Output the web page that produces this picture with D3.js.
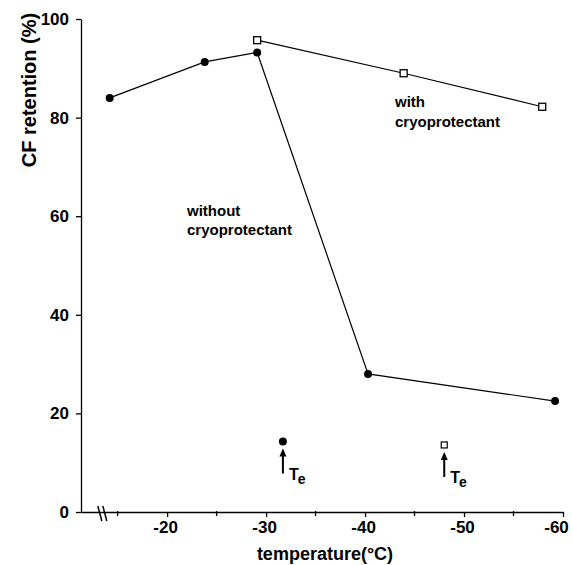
<!DOCTYPE html>
<meta charset="utf-8">
<title>CF retention vs temperature</title>
<script src="https://d3js.org/d3.v7.min.js"></script>
<style>
  body { margin: 0; background: white; }
  svg text { font-family: "Liberation Sans", Arial, Helvetica, sans-serif; font-weight: bold; fill: black; }
  .axis path, .axis line { stroke: black; stroke-width: 1.3; }
</style>
<body>
<svg class=chart></svg>
<script>

var width = 572;
var height = 565;

// without cryoprotectant (filled circles)
var without_temp = [-14.2, -23.8, -29.1, -40.3, -59.2];
var without_val = [84.0, 91.3, 93.2, 28.0, 22.5];

// with cryoprotectant (open squares)
var with_temp = [-29.1, -43.9, -57.9];
var with_val = [95.7, 89.0, 82.2];

// eutectic temperature markers
var te_temp = [-31.7, -48.0];
var te_val = [14.3, 13.6];
var te_shape = ["circle", "square"];

var y_ticks = [0, 20, 40, 60, 80, 100];
var x_ticks = [-20, -30, -40, -50, -60];
var x_minor = [-15, -25, -35, -45, -55];

var svg = d3.select(".chart")
  .attr("width", width)
  .attr("height", height);

var x = d3.scaleLinear().domain([-11.3, -60]).range([81, 563]);
var y = d3.scaleLinear().domain([0, 100]).range([512, 19]);

// y axis
svg.append("g")
  .attr("class", "axis")
  .attr("transform", "translate(" + x(-11.3) + ",0)")
  .call(d3.axisLeft(y).tickValues(y_ticks).tickSize(5).tickSizeOuter(0).tickPadding(7))
  .call(function(g) {
    g.selectAll("text").style("font-size", "17px");
  });

// x axis
svg.append("g")
  .attr("class", "axis")
  .attr("transform", "translate(0," + y(0) + ")")
  .call(d3.axisBottom(x).tickValues(x_ticks).tickSize(5).tickSizeOuter(0).tickPadding(4)
    .tickFormat(function(d) { return "-" + Math.abs(d); }))
  .call(function(g) {
    g.selectAll("text").style("font-size", "17px")
      .attr("dx", function(d) { return d == -60 ? "-7" : "-2"; });
  });

svg.append("g")
  .attr("class", "axis")
  .selectAll("line")
  .data(x_minor)
  .enter().append("line")
    .attr("x1", function(d) { return x(d); })
    .attr("x2", function(d) { return x(d); })
    .attr("y1", y(0) - 1)
    .attr("y2", y(0) + 4);

// axis break
svg.selectAll(".break")
  .data([0, 5])
  .enter().append("line")
    .attr("class", "break")
    .attr("x1", function(d) { return x(-13.0) + d; })
    .attr("x2", function(d) { return x(-13.0) + d + 4; })
    .attr("y1", y(0) - 6)
    .attr("y2", y(0) + 9)
    .attr("stroke", "black")
    .attr("stroke-width", 1.5);

// axis titles
svg.append("text")
  .attr("transform", "translate(36,90) rotate(-90)")
  .attr("text-anchor", "middle")
  .style("font-size", "20px")
  .text("CF retention (%)");

svg.append("text")
  .attr("x", 325)
  .attr("y", 560)
  .attr("text-anchor", "middle")
  .style("font-size", "18px")
  .text("temperature(\u00b0C)");

var line = d3.line()
  .x(function(d) { return x(d[0]); })
  .y(function(d) { return y(d[1]); });

var without_pts = d3.zip(without_temp, without_val);
var with_pts = d3.zip(with_temp, with_val);

svg.append("path")
  .datum(without_pts)
  .attr("d", line)
  .attr("fill", "none")
  .attr("stroke", "black")
  .attr("stroke-width", 1.2);

svg.append("path")
  .datum(with_pts)
  .attr("d", line)
  .attr("fill", "none")
  .attr("stroke", "black")
  .attr("stroke-width", 1.2);

svg.selectAll(".dot")
  .data(without_pts)
  .enter().append("circle")
    .attr("class", "dot")
    .attr("cx", function(d) { return x(d[0]); })
    .attr("cy", function(d) { return y(d[1]); })
    .attr("r", 4)
    .attr("fill", "black");

svg.selectAll(".sq")
  .data(with_pts)
  .enter().append("rect")
    .attr("class", "sq")
    .attr("x", function(d) { return x(d[0]) - 3.5; })
    .attr("y", function(d) { return y(d[1]) - 3.5; })
    .attr("width", 7)
    .attr("height", 7)
    .attr("fill", "white")
    .attr("stroke", "black")
    .attr("stroke-width", 1.3);

// curve labels
svg.append("text")
  .attr("x", 187)
  .attr("y", 216)
  .style("font-size", "15px")
  .selectAll("tspan")
  .data(["without", "cryoprotectant"])
  .enter().append("tspan")
    .attr("x", 187)
    .attr("dy", function(d, i) { return i ? 19 : 0; })
    .text(function(d) { return d; });

svg.append("text")
  .attr("x", 395)
  .attr("y", 107)
  .style("font-size", "15px")
  .selectAll("tspan")
  .data(["with", "cryoprotectant"])
  .enter().append("tspan")
    .attr("x", 395)
    .attr("dy", function(d, i) { return i ? 20 : 0; })
    .text(function(d) { return d; });

// Te markers with arrows
var te = svg.selectAll(".te")
  .data(d3.range(te_temp.length))
  .enter().append("g")
    .attr("class", "te")
    .attr("transform", function(i) { return "translate(" + x(te_temp[i]) + "," + y(te_val[i]) + ")"; });

te.each(function(i) {
  var g = d3.select(this);
  if (te_shape[i] == "circle") {
    g.append("circle").attr("r", 4).attr("fill", "black");
  } else {
    g.append("rect")
      .attr("x", -3).attr("y", -3).attr("width", 6).attr("height", 6)
      .attr("fill", "white").attr("stroke", "black").attr("stroke-width", 1.2);
  }
});

te.append("line")
  .attr("x1", 0).attr("x2", 0)
  .attr("y1", 13).attr("y2", 32)
  .attr("stroke", "black")
  .attr("stroke-width", 2);

te.append("path")
  .attr("d", "M-3.5,15 L0,7 L3.5,15 Z")
  .attr("fill", "black");

var te_text = te.append("text")
  .attr("x", 6)
  .attr("y", 38)
  .style("font-size", "16px");
te_text.append("tspan").text("T");
te_text.append("tspan")
  .attr("dy", 4)
  .attr("dx", -1)
  .style("font-size", "14px")
  .text("e");

</script>
</body>
